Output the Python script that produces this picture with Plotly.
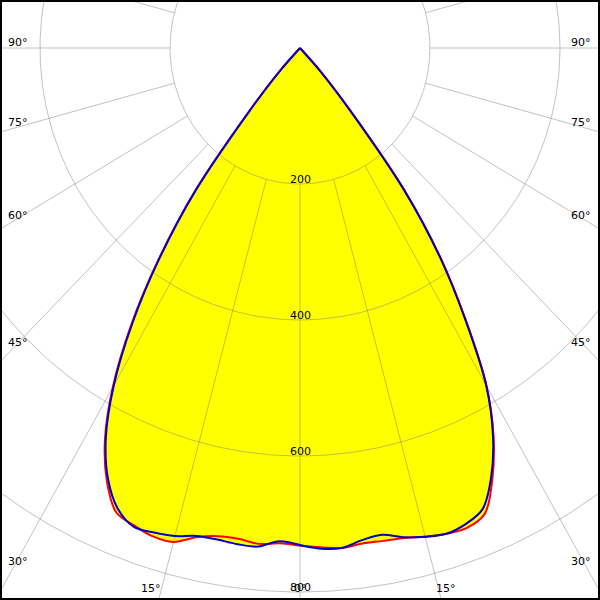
import numpy as np
import plotly.graph_objects as go

# ---------------- data ----------------
gamma = [0, 2.5, 5, 7.5, 10, 12.5, 15, 17.5, 20, 22.5, 25, 27.5, 30,
         32.5, 35, 37.5, 40, 42.5, 45]
blue_left = [731, 726, 736, 736, 734, 735, 743, 747, 749, 733, 699, 647, 573,
             480, 376, 263, 122, 48, 0]
blue_right = [731, 737, 738, 730, 727, 737, 744, 749, 745, 734, 696, 643, 573,
              473, 376, 263, 122, 48, 0]
red_left = [732, 729, 732, 728, 729, 737, 752, 753, 747, 739, 703, 650, 576,
            484, 378, 265, 123, 48, 0]
red_right = [732, 735, 738, 735, 736, 738, 744, 749, 751, 742, 700, 645, 574,
             475, 377, 264, 122, 48, 0]

circle_values = [200, 400, 600, 800]
circle_labels = ["200", "400", "600", "800"]
ray_angles = list(range(-180, 181, 15))
angle_label_values = [90, 75, 60, 45, 30, 15, 0]

# ---------------- geometry ----------------
W = H = 600
PXX = 0.65           # horizontal pixels per cd
PXY = 0.68           # vertical pixels per cd
CX, CY = 300, 48     # pole position in pixels
x_range = [-CX / PXX, (W - CX) / PXX]
y_range = [-(H - CY) / PXY, CY / PXY]


def half(g_list, vals, side):
    g = np.radians(np.array(g_list, dtype=float))
    v = np.array(vals, dtype=float)
    return side * v * np.sin(g), -v * np.cos(g)


def outline(g_list, i_left, i_right):
    xl, yl = half(g_list, i_left, -1)
    xr, yr = half(g_list, i_right, 1)
    x = np.concatenate([xl[::-1], xr[1:]])
    y = np.concatenate([yl[::-1], yr[1:]])
    return x, y


fig = go.Figure()

YELLOW = "rgb(255,255,0)"
for il, ir in [(red_left, red_right), (blue_left, blue_right)]:
    xx, yy = outline(gamma, il, ir)
    fig.add_trace(go.Scatter(x=xx, y=yy, mode="lines", fill="toself",
                             fillcolor=YELLOW, line=dict(width=0),
                             hoverinfo="skip", showlegend=False))

# grid: circles and rays
gx, gy = [], []
t = np.linspace(0, 2 * np.pi, 721)
for r in circle_values:
    gx += list(r * np.sin(t)) + [None]
    gy += list(-r * np.cos(t)) + [None]
r_in, r_out = circle_values[0], 3000
for a in ray_angles:
    ar = np.radians(a)
    gx += [r_in * np.sin(ar), r_out * np.sin(ar), None]
    gy += [-r_in * np.cos(ar), -r_out * np.cos(ar), None]
fig.add_trace(go.Scatter(x=gx, y=gy, mode="lines",
                         line=dict(color="rgba(120,120,120,0.45)", width=1),
                         hoverinfo="skip", showlegend=False))

# curve lines: each half drawn as an open spline so the tip stays sharp
for (il, ir), col in [((red_left, red_right), "rgb(255,0,0)"),
                      ((blue_left, blue_right), "rgb(0,0,200)")]:
    for vals, side in [(il, -1), (ir, 1)]:
        xx, yy = half(gamma, vals, side)
        fig.add_trace(go.Scatter(x=xx, y=yy, mode="lines",
                                 line=dict(color=col, width=2, shape="spline"),
                                 hoverinfo="skip", showlegend=False))

FONT = dict(family="DejaVu Sans", size=11, color="black")
ann = []
for r, lab in zip(circle_values, circle_labels):
    ann.append(dict(x=0, y=-r, text=lab, showarrow=False, xanchor="center",
                    yanchor="middle", yshift=5, font=FONT))


def to_data(px, py):
    return (px - CX) / PXX, -(py - CY) / PXY


# angle labels placed where the (pixel-space) ray direction meets the frame
for a in angle_label_values:
    ar = np.radians(a)
    t_side = CX / np.sin(ar) if a > 0 else np.inf
    t_bot = (H - CY) / np.cos(ar) if a < 90 else np.inf
    lab = f"{a}°"
    if t_side <= t_bot:
        py = CY + t_side * np.cos(ar) - 6
        for px in (18, W - 19):
            xd, yd = to_data(px, py)
            ann.append(dict(x=xd, y=yd, text=lab, showarrow=False,
                            xanchor="center", yanchor="middle", font=FONT))
    else:
        off = t_bot * np.sin(ar)
        pxs = [CX - off - 1, CX + off - 2] if a > 0 else [CX]
        for px in pxs:
            xd, yd = to_data(px, H - 12)
            ann.append(dict(x=xd, y=yd, text=lab, showarrow=False,
                            xanchor="center", yanchor="middle", font=FONT))

fig.update_layout(
    width=W, height=H,
    margin=dict(l=0, r=0, t=0, b=0),
    paper_bgcolor="white", plot_bgcolor="white",
    xaxis=dict(range=x_range, visible=False, fixedrange=True),
    yaxis=dict(range=y_range, visible=False, fixedrange=True),
    annotations=ann,
    shapes=[dict(type="rect", xref="paper", yref="paper", x0=0, y0=0, x1=1, y1=1,
                 line=dict(color="black", width=4))],
    showlegend=False,
)

fig.write_html("out.html", config={"displayModeBar": False},
               post_script="document.body.style.margin='0';")
